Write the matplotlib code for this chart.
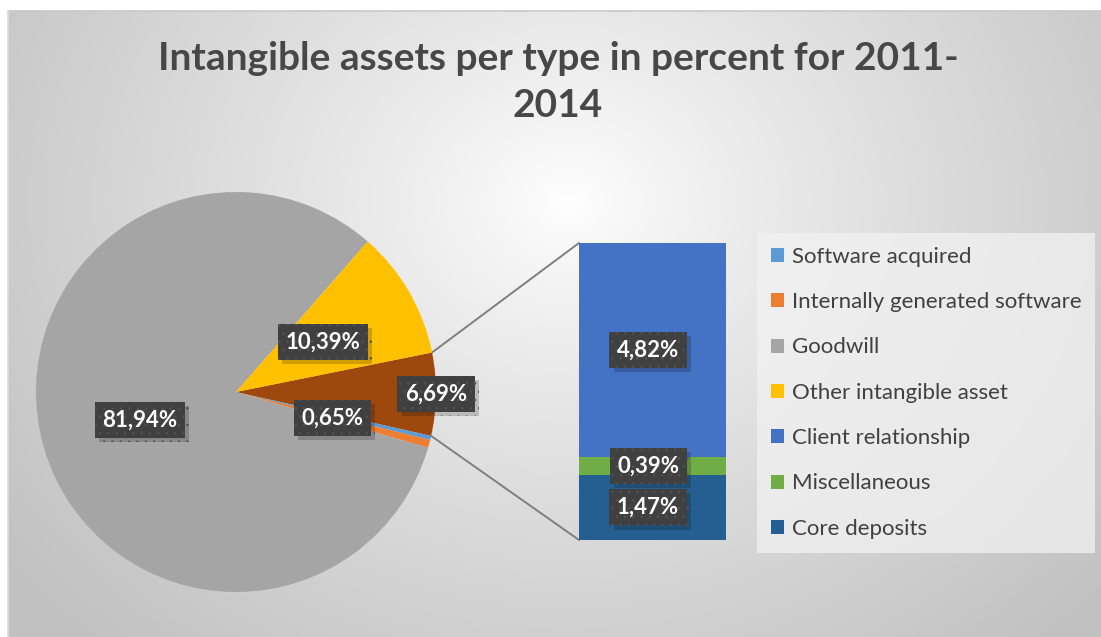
import numpy as np
import matplotlib
matplotlib.use("Agg")
import matplotlib.pyplot as plt
from matplotlib.patches import Patch, ConnectionPatch
import matplotlib.patheffects as pe

# ---- data ----
title = "Intangible assets per type in percent for 2011-\n2014"
legend_labels = ["Software acquired", "Internally generated software", "Goodwill",
                 "Other intangible asset", "Client relationship", "Miscellaneous",
                 "Core deposits"]
legend_colors = ["#5B9BD5", "#ED7D31", "#A5A5A5", "#FFC000", "#4472C4", "#70AD47", "#255E91"]

# main pie (first slice = combined "other" slice going to the bar)
pie_names = ["Other", "Software acquired", "Internally generated software", "Goodwill",
             "Other intangible asset"]
pie_values = [6.69, 0.33, 0.65, 81.94, 10.39]
pie_colors = ["#9E480E", "#5B9BD5", "#ED7D31", "#A5A5A5", "#FFC000"]
pie_labels = ["6,69%", "", "0,65%", "81,94%", "10,39%"]
pie_label_r = [1.0, 0.5, 0.5, 0.5, 0.5]

# secondary bar (bottom to top)
bar_names = ["Core deposits", "Miscellaneous", "Client relationship"]
bar_values = [1.47, 0.39, 4.82]
bar_colors = ["#255E91", "#70AD47", "#4472C4"]
bar_labels = ["1,47%", "0,39%", "4,82%"]

start_angle = 11.4

plt.rcParams['font.family'] = ['Lato', 'DejaVu Sans']
plt.rcParams['hatch.linewidth'] = 0.6

W, H = 1101, 637
fig = plt.figure(figsize=(W / 100, H / 100), dpi=100, facecolor="white")

# ---- background radial gradient ----
bg = fig.add_axes([8 / W, 0, 1 - 8 / W, 1 - 11 / H], zorder=0)
yy, xx = np.mgrid[0:H - 11, 0:W - 8]
cx, cy = 560, 190
d = np.sqrt(((xx - cx) / 1.0) ** 2 + ((yy - cy) / 0.85) ** 2)
t = np.clip(d / 700, 0, 1) ** 0.85
g = 1.0 - 0.24 * t
img = np.dstack([g, g, g])
bg.imshow(img, aspect="auto", extent=[0, 1, 0, 1], origin="upper", interpolation="bilinear")
bg.set_axis_off()
fig.add_artist(plt.Line2D([8 / W, 1], [1 - 11 / H, 1 - 11 / H], color="#c8c8c8", lw=1.2,
                          transform=fig.transFigure, zorder=1))
fig.add_artist(plt.Line2D([8 / W, 8 / W], [0, 1 - 11 / H], color="#dcdcdc", lw=1.2,
                          transform=fig.transFigure, zorder=1))

# ---- title ----
fig.text(558 / W, 1 - 82 / H, title, ha="center", va="center", fontsize=28,
         fontweight="bold", color="#474747", linespacing=1.42, zorder=5)


def label(ax, x, y, s, fs=16):
    t = ax.text(x, y, s, ha="center", va="center", fontsize=fs, fontweight="bold",
                color="white", zorder=9,
                bbox=dict(boxstyle="square,pad=0.34", fc="#404040", ec="#525252", lw=0,
                          hatch=".."))
    t.get_bbox_patch().set_path_effects([
        pe.SimplePatchShadow(offset=(3, -3), shadow_rgbFace="black", alpha=0.18),
        pe.Normal()])


# ---- pie ----
pax = fig.add_axes([36 / W, 45 / H, 400 / W, 400 / H], zorder=3)
wedges, _ = pax.pie(pie_values, colors=pie_colors, startangle=start_angle, counterclock=False,
                    radius=1.0, wedgeprops=dict(linewidth=0))
pax.set_xlim(-1.0, 1.0)
pax.set_ylim(-1.0, 1.0)
pax.set_axis_off()
total = sum(pie_values)
cum = 0.0
for v, lab, r in zip(pie_values, pie_labels, pie_label_r):
    mid = start_angle - (cum + v / 2) / total * 360
    cum += v
    if lab:
        label(pax, r * np.cos(np.radians(mid)), r * np.sin(np.radians(mid)), lab)

# ---- bar ----
bax = fig.add_axes([579 / W, 97 / H, 147 / W, 297 / H], zorder=3)
btot = sum(bar_values)
bottom = 0.0
for v, c in zip(bar_values, bar_colors):
    bax.bar(0.5, v, width=1.0, bottom=bottom, color=c, linewidth=0)
    bottom += v
bax.set_xlim(0, 1)
bax.set_ylim(0, btot)
bax.set_axis_off()
bottom = 0.0
for v, lab in zip(bar_values, bar_labels):
    label(bax, 0.47, bottom + v / 2, lab)
    bottom += v

# ---- connector lines ----
a1 = np.radians(start_angle)
a2 = np.radians(start_angle - pie_values[0] / total * 360)
for ang, yb in [(a1, btot), (a2, 0)]:
    con = ConnectionPatch(xyA=(np.cos(ang), np.sin(ang)), coordsA=pax.transData,
                          xyB=(0, yb), coordsB=bax.transData, color="#7f7f7f", lw=1.4,
                          zorder=2)
    fig.add_artist(con)

# ---- legend ----
handles = [Patch(facecolor=c, edgecolor="none") for c in legend_colors]
leg = fig.legend(handles, legend_labels, loc="upper left",
                 bbox_to_anchor=(757 / W, 1 - 233 / H), bbox_transform=fig.transFigure,
                 frameon=True, fancybox=False, fontsize=16, labelcolor="#404040",
                 handlelength=0.6, handleheight=0.6, handletextpad=0.35,
                 labelspacing=1.14, borderpad=0.62, borderaxespad=0)
leg.get_frame().set_facecolor("#f2f2f2")
leg.get_frame().set_alpha(0.75)
leg.get_frame().set_edgecolor("none")
leg.set_zorder(6)

fig.savefig("out.png", dpi=100, facecolor="white")
